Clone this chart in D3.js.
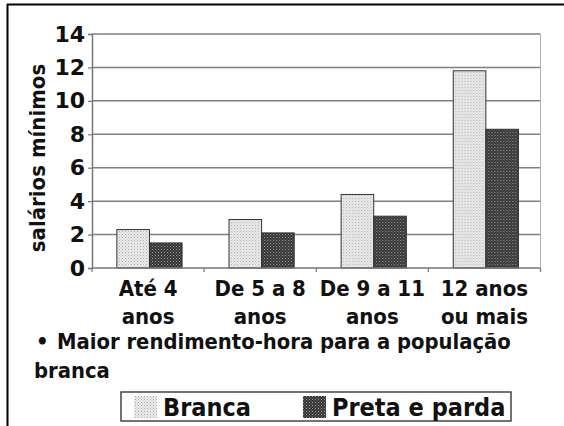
<!DOCTYPE html>
<html><head><meta charset="utf-8">
<script src="https://cdn.jsdelivr.net/npm/d3@7"></script>
<style>
html,body{margin:0;padding:0;background:#fff;}
svg{display:block;}
text{font-family:"DejaVu Sans Condensed","DejaVu Sans",sans-serif;font-weight:bold;fill:#111;}
</style></head>
<body>
<svg id="chart" width="564" height="426"></svg>
<script>
const categories = [["Até 4","anos"],["De 5 a 8","anos"],["De 9 a 11","anos"],["12 anos","ou mais"]];
const seriesNames = ["Branca","Preta e parda"];
const branca = [2.3, 2.9, 4.4, 11.8];
const pretaParda = [1.5, 2.1, 3.1, 8.3];
const yTicks = [0,2,4,6,8,10,12,14];
const yTitle = "salários mínimos";
const noteLines = ["Maior rendimento-hora para a população","branca"];

(function(){
const svg = d3.select("#chart");
const defs = svg.append("defs");
const p1 = defs.append("pattern").attr("id","pBranca").attr("patternUnits","userSpaceOnUse").attr("width",3).attr("height",3);
p1.append("rect").attr("width",3).attr("height",3).attr("fill","#ececec");
p1.append("rect").attr("x",0).attr("y",0).attr("width",1).attr("height",1).attr("fill","#a8a8a8");
p1.append("rect").attr("x",1.5).attr("y",1.5).attr("width",1).attr("height",1).attr("fill","#bcbcbc");
const p2 = defs.append("pattern").attr("id","pPreta").attr("patternUnits","userSpaceOnUse").attr("width",3).attr("height",3);
p2.append("rect").attr("width",3).attr("height",3).attr("fill","#333");
p2.append("rect").attr("x",0).attr("y",0).attr("width",1).attr("height",1).attr("fill","#a0a0a0");
p2.append("rect").attr("x",1.5).attr("y",1.5).attr("width",1).attr("height",1).attr("fill","#888");
const fills = ["url(#pBranca)","url(#pPreta)"];

svg.append("line").attr("x1",7).attr("x2",564).attr("y1",4.5).attr("y2",4.5).attr("stroke","#000").attr("stroke-width",2);
svg.append("line").attr("x1",7.5).attr("x2",7.5).attr("y1",4).attr("y2",426).attr("stroke","#000").attr("stroke-width",2);

const mLeft = 92, mRight = 540.5, mTop = 34, mBottom = 268;
const y = d3.scaleLinear().domain([0,14]).range([mBottom, mTop]);
const x0 = d3.scaleBand().domain(d3.range(categories.length)).range([mLeft,mRight]).paddingInner(0).paddingOuter(0);
const x1 = d3.scaleBand().domain(d3.range(seriesNames.length)).range([0,x0.bandwidth()]).paddingInner(0).paddingOuter(0.72).align(0.53);

svg.append("g").selectAll("line").data(yTicks.filter(d=>d>0)).join("line")
  .attr("x1",mLeft).attr("x2",mRight).attr("y1",d=>y(d)).attr("y2",d=>y(d))
  .attr("stroke","#808080").attr("stroke-width",1.5);
svg.append("line").attr("x1",mRight).attr("x2",mRight).attr("y1",mTop).attr("y2",mBottom).attr("stroke","#b0b0b0").attr("stroke-width",1);

const yAxis = svg.append("g").attr("transform",`translate(${mLeft},0)`)
  .call(d3.axisLeft(y).tickValues(yTicks).tickSize(4).tickPadding(3));
yAxis.attr("font-family",null).attr("font-size",null);
yAxis.select(".domain").attr("stroke","#777").attr("stroke-width",1.5);
yAxis.selectAll(".tick line").attr("stroke","#777").attr("stroke-width",1.2);
yAxis.selectAll("text").attr("font-size",22).attr("fill","#111").style("font-family","'DejaVu Sans',sans-serif");

const groups = svg.append("g").selectAll("g").data(categories.map((c,i)=>i)).join("g")
  .attr("transform",i=>`translate(${x0(i)},0)`);
groups.selectAll("rect").data(i=>[branca[i],pretaParda[i]].map((v,s)=>({v,s}))).join("rect")
  .attr("x",d=>x1(d.s)).attr("width",x1.bandwidth())
  .attr("y",d=>y(d.v)).attr("height",d=>mBottom-y(d.v))
  .attr("fill",d=>fills[d.s]).attr("stroke","#333").attr("stroke-width",1);

const xAxis = svg.append("g").attr("transform",`translate(0,${mBottom})`);
xAxis.append("line").attr("x1",mLeft).attr("x2",mRight).attr("stroke","#777").attr("stroke-width",1.5);
xAxis.selectAll("line.tk").data(d3.range(categories.length+1)).join("line").attr("class","tk")
  .attr("x1",i=>mLeft+i*x0.step()).attr("x2",i=>mLeft+i*x0.step()).attr("y1",0).attr("y2",4)
  .attr("stroke","#777").attr("stroke-width",1.2);
const xl = svg.append("g").selectAll("text").data(categories.map((c,i)=>({c,i}))).join("text")
  .attr("text-anchor","middle").attr("font-size",22);
xl.selectAll("tspan").data(d=>d.c.map((t,k)=>({t,k,x:x0(d.i)+x0.bandwidth()/2}))).join("tspan")
  .attr("x",d=>d.x).attr("y",d=>d.k===0?296:324).text(d=>d.t);

svg.append("text").attr("transform","translate(45,158) rotate(-90)").attr("text-anchor","middle")
  .attr("font-size",22).text(yTitle);

svg.append("text").attr("x",36).attr("y",349).attr("font-size",22).text("•");
svg.append("text").attr("x",57).attr("y",349).attr("font-size",21.8).text(noteLines[0]);
svg.append("text").attr("x",34).attr("y",378).attr("font-size",21.8).text(noteLines[1]);

const lg = svg.append("g");
lg.append("rect").attr("x",121).attr("y",392).attr("width",390).attr("height",29)
  .attr("fill","#fff").attr("stroke","#444").attr("stroke-width",1.5);
const legX = [134, 303];
const li = lg.selectAll("g").data(seriesNames.map((n,s)=>({n,s}))).join("g");
li.append("rect").attr("x",d=>legX[d.s]).attr("y",396).attr("width",23).attr("height",22).attr("fill",d=>fills[d.s]);
li.append("text").attr("x",d=>legX[d.s]+29).attr("y",416).attr("font-size",25).text(d=>d.n);
})();
</script>
</body></html>
